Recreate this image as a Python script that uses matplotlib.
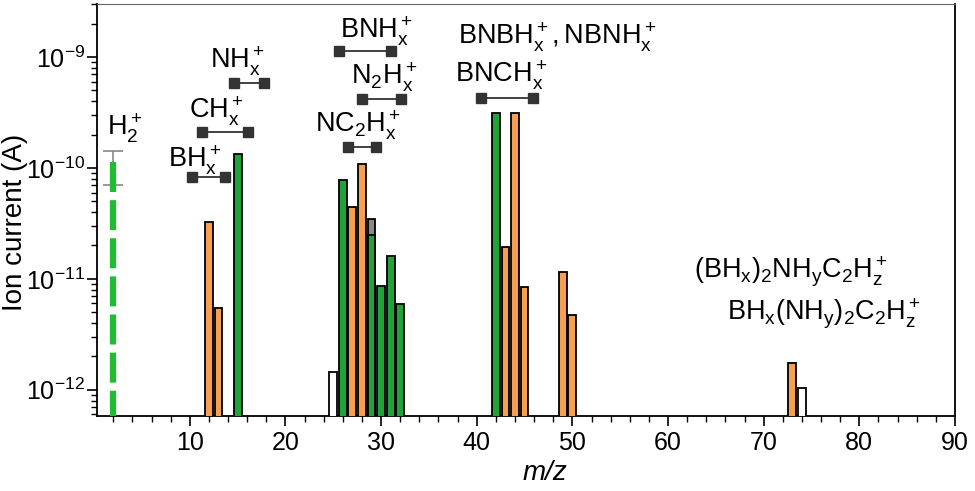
import numpy as np
import matplotlib
matplotlib.use("Agg")
import matplotlib.pyplot as plt
from matplotlib.ticker import MultipleLocator, LogLocator, NullFormatter

plt.rcParams['font.family'] = ['Liberation Sans', 'DejaVu Sans']
plt.rcParams['mathtext.fontset'] = 'custom'
plt.rcParams['mathtext.rm'] = 'Liberation Sans'
plt.rcParams['mathtext.it'] = 'Liberation Sans:italic'
plt.rcParams['mathtext.default'] = 'regular'

# ion current (A) per m/z
orange_mz = [12, 13, 27, 28, 43, 44, 45, 49, 50, 73]
orange_val = [3.24e-11, 5.48e-12, 4.43e-11, 1.09e-10, 1.93e-11, 3.11e-10,
              8.41e-12, 1.15e-11, 4.77e-12, 1.76e-12]
green_mz = [15, 26, 29, 30, 31, 32, 42]
green_val = [1.34e-10, 7.85e-11, 2.46e-11, 8.7e-12, 1.60e-11, 5.95e-12, 3.13e-10]
gray_mz = [29]
gray_val = [3.47e-11]
white_mz = [25, 74]
white_val = [1.44e-12, 1.04e-12]

h2_mz = 2
h2_val = 1.13e-10
h2_err = (7.03e-11, 1.41e-10)

# fragment groups: (label, text x, text y, bracket start, bracket end, bracket y)
groups = [
    (r'$BH_x^+$', 7.7, 1.01e-10, 10.2, 13.7, 8.35e-11),
    (r'$CH_x^+$', 9.9, 2.8e-10, 11.25, 16.05, 2.1e-10),
    (r'$NH_x^+$', 12.1, 7.9e-10, 14.67, 17.8, 5.83e-10),
    (r'$BNH_x^+$', 25.7, 1.47e-9, 25.57, 31.05, 1.14e-9),
    (r'$N_2H_x^+$', 26.9, 5.7e-10, 28.05, 32.1, 4.19e-10),
    (r'$NC_2H_x^+$', 23.1, 2.07e-10, 26.5, 29.5, 1.56e-10),
    (r'$BNCH_x^+$', 37.7, 5.92e-10, 40.4, 45.9, 4.24e-10),
]
extra_labels = [
    (r'$H_2^+$', 1.3, 1.98e-10),
    (r'$BNBH_x^+, NBNH_x^+$', 38.0, 1.29e-9),
    (r'$(BH_x)_2NH_yC_2H_z^+$', 62.7, 1.01e-11),
    (r'$BH_x(NH_y)_2C_2H_z^+$', 66.2, 4.21e-12),
]

fig = plt.figure(figsize=(9.75, 4.91), dpi=100)
ax = fig.add_axes([0.0995, 0.1527, 0.88, 0.839])

bot = 1e-13
w = 0.82
kw = dict(width=w, bottom=bot, edgecolor='black', linewidth=1.3)
ax.bar(orange_mz, np.array(orange_val) - bot, color='#f5a050', zorder=3, **kw)
ax.bar(gray_mz, np.array(gray_val) - bot, color='#8a8a8a', zorder=2, **kw)
ax.bar(green_mz, np.array(green_val) - bot, color='#1fa33a', zorder=3, **kw)
ax.bar(white_mz, np.array(white_val) - bot, color='white', zorder=3, **kw)

# H2 dashed line with error bar
ax.plot([h2_mz, h2_mz], [h2_val, bot], color='#22bb33', lw=4.5,
        dashes=(4.8, 1.3), solid_capstyle='butt', dash_capstyle='butt', zorder=3)
gm = np.sqrt(h2_err[0] * h2_err[1])
ax.errorbar([h2_mz], [gm], yerr=[[gm - h2_err[0]], [h2_err[1] - gm]],
            fmt='none', ecolor='#888888', elinewidth=1.2, capsize=7.5, capthick=1.2,
            zorder=2)

for lab, tx, ty, x1, x2, by in groups:
    ax.text(tx, ty, lab, fontsize=19.5, ha='left', va='baseline')
    ax.plot([x1, x2], [by, by], color='#333333', lw=1.3, marker='s', ms=6.5)

for lab, tx, ty in extra_labels:
    ax.text(tx, ty, lab, fontsize=19.5, ha='left', va='baseline')

ax.set_yscale('log')
ax.set_xlim(0.3, 90)
ax.set_ylim(5.8e-13, 3.0e-9)

ax.xaxis.set_major_locator(MultipleLocator(10))
ax.xaxis.set_minor_locator(MultipleLocator(2))
ax.yaxis.set_major_locator(LogLocator(base=10, numticks=10))
ax.yaxis.set_minor_locator(LogLocator(base=10, subs=np.arange(2, 10), numticks=10))
ax.yaxis.set_minor_formatter(NullFormatter())

ax.tick_params(axis='both', which='major', direction='out', length=7, width=1.2,
               labelsize=18)
ax.tick_params(axis='y', which='major', pad=1.5)
ax.tick_params(axis='both', which='minor', direction='out', length=4, width=1.0)
ax.tick_params(top=False, right=False)

for s in ['left', 'bottom', 'right']:
    ax.spines[s].set_linewidth(1.3)
ax.spines['top'].set_color('#666666')

ax.set_xlabel('m/z', fontsize=20, style='italic')
ax.xaxis.set_label_coords(0.522, -0.107)
ax.set_ylabel('Ion current (A)', fontsize=20)
ax.yaxis.set_label_coords(-0.081, 0.47)

fig.savefig('out.png', dpi=100)
